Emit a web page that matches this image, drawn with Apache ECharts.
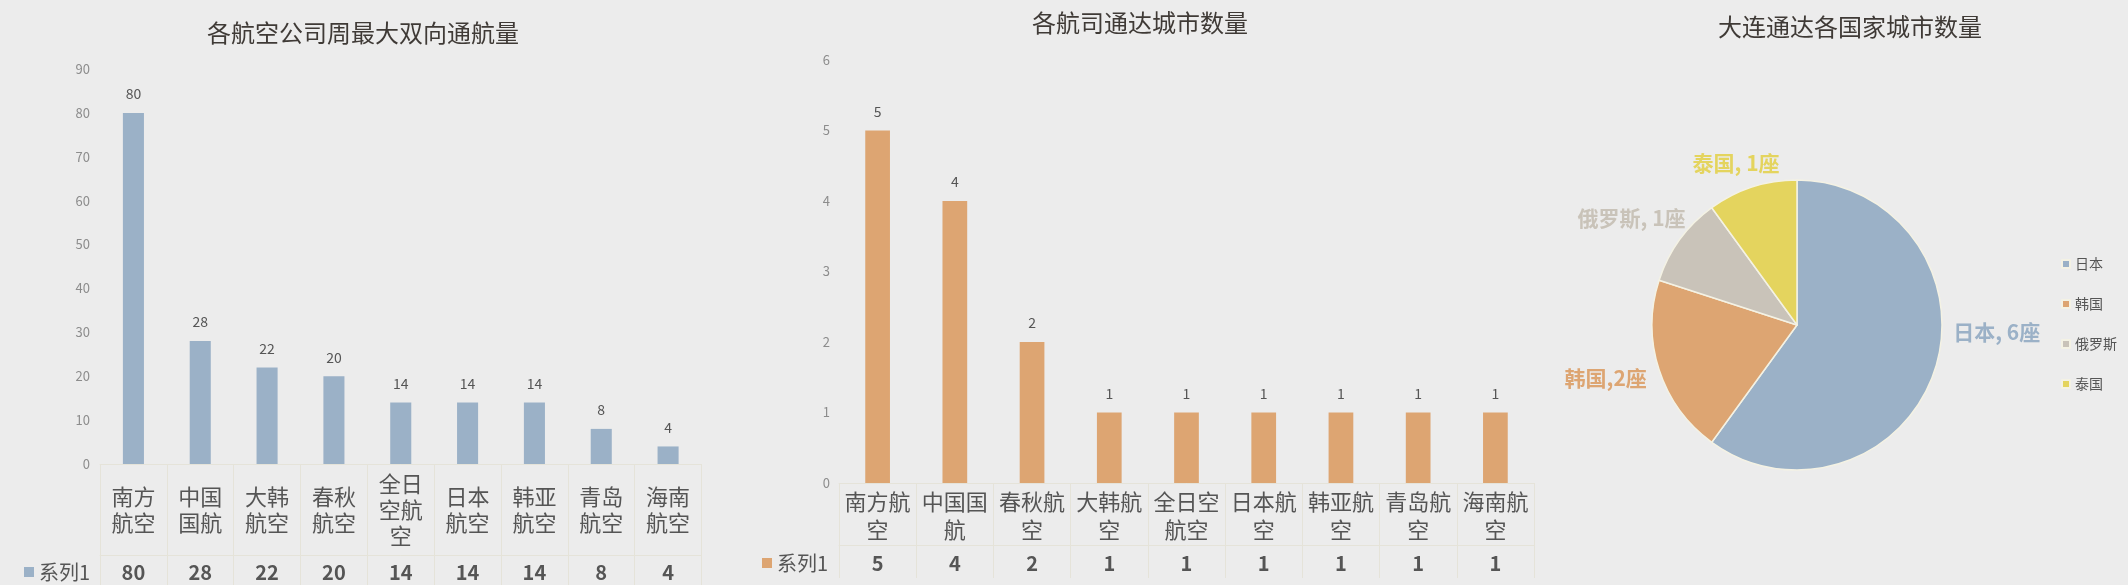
<!DOCTYPE html>
<html><head><meta charset="utf-8">
<script src="https://cdn.jsdelivr.net/npm/echarts@6/dist/echarts.min.js"></script>
<style>html,body{margin:0;padding:0;background:#ECECEC;overflow:hidden}#c{width:2128px;height:585px}</style>
</head><body><div id="c"></div>
<script>
// ---- data ----
const airlines1 = ['南方航空','中国国航','大韩航空','春秋航空','全日空航空','日本航空','韩亚航空','青岛航空','海南航空'];
const weeklyFlights = [80,28,22,20,14,14,14,8,4];
const airlines2 = ['南方航空','中国国航','春秋航空','大韩航空','全日空航空','日本航空','韩亚航空','青岛航空','海南航空'];
const cityCounts = [5,4,2,1,1,1,1,1,1];
const countries = ['日本','韩国','俄罗斯','泰国'];
const countryCities = [6,2,1,1];
const pieSep = [', ', ',', ', ', ', '];
const seriesName = '系列1';
const y1Max = 90, y1Step = 10;
const y2Max = 6, y2Step = 1;

// ---- styles ----
const font = "'Noto Sans CJK SC','Noto Sans',sans-serif";
const textColor = '#555555';
const titleColor = '#3F3A36';
const lineColor = '#E5E3D9';
const blue = '#9BB1C7', orange = '#DDA572';
const pieColors = ['#9BB1C7','#DDA572','#C9C3B9','#E4D45E'];
const pieLabelShift = [[-31,-42],[37,4],[53,-13],[67,-10]];

function wrap(n){ const re = new RegExp('.{1,' + n + '}', 'g'); return v => v.match(re).join('\n'); }

const chart = echarts.init(document.getElementById('c'), null, {renderer:'canvas'});
const titleStyle = {fontSize:24, fontWeight:'normal', color:titleColor, fontFamily:font};
const legendText = {fontSize:20, color:textColor, fontFamily:font};

chart.setOption({
  backgroundColor:'#ECECEC',
  animation:false,
  textStyle:{fontFamily:font},
  title:[
    {text:'各航空公司周最大双向通航量', left:363, top:21, textAlign:'center', padding:0, textStyle:titleStyle},
    {text:'各航司通达城市数量', left:1140, top:11, textAlign:'center', padding:0, textStyle:titleStyle},
    {text:'大连通达各国家城市数量', left:1850, top:15, textAlign:'center', padding:0, textStyle:titleStyle}
  ],
  legend:[
    {data:[{name:seriesName, itemStyle:{color:blue}}], left:24, top:562, padding:0, icon:'rect', itemWidth:10, itemHeight:10, selectedMode:false, textStyle:legendText},
    {data:[{name:seriesName, itemStyle:{color:orange}}], left:762, top:553, padding:0, icon:'rect', itemWidth:10, itemHeight:10, selectedMode:false, textStyle:legendText},
    {data:countries, orient:'vertical', left:2061, top:257, padding:0, icon:'rect', itemWidth:8, itemHeight:8, itemGap:26, selectedMode:false, textStyle:{fontSize:14, color:textColor, fontFamily:font}}
  ],
  grid:[
    {left:100, top:69, width:601.5, height:395, outerBoundsMode:'none', containLabel:false},
    {left:839, top:60, width:695, height:423, outerBoundsMode:'none', containLabel:false}
  ],
  xAxis:[
    {type:'category', gridIndex:0, data:airlines1,
     axisLine:{show:true, lineStyle:{color:lineColor}},
     axisTick:{show:true, interval:0, length:121, lineStyle:{color:lineColor}},
     axisLabel:{interval:0, formatter:wrap(2), fontSize:22, lineHeight:26, color:textColor, verticalAlign:'middle', margin:46}},
    {type:'category', gridIndex:0, data:airlines1, position:'bottom', offset:91,
     axisLine:{show:true, lineStyle:{color:lineColor}}, axisTick:{show:false},
     axisLabel:{interval:0, formatter:(v,i)=>String(weeklyFlights[i]), fontSize:20, fontWeight:'bold', color:textColor, verticalAlign:'middle', margin:17}},
    {type:'category', gridIndex:1, data:airlines2,
     axisLine:{show:true, lineStyle:{color:lineColor}},
     axisTick:{show:true, interval:0, length:95, lineStyle:{color:lineColor}},
     axisLabel:{interval:0, formatter:wrap(3), fontSize:22, lineHeight:28, color:textColor, verticalAlign:'middle', margin:33}},
    {type:'category', gridIndex:1, data:airlines2, position:'bottom', offset:62,
     axisLine:{show:true, lineStyle:{color:lineColor}}, axisTick:{show:false},
     axisLabel:{interval:0, formatter:(v,i)=>String(cityCounts[i]), fontSize:20, fontWeight:'bold', color:textColor, verticalAlign:'middle', margin:18}}
  ],
  yAxis:[
    {type:'value', gridIndex:0, min:0, max:y1Max, interval:y1Step,
     axisLine:{show:false}, axisTick:{show:false}, splitLine:{show:false},
     axisLabel:{fontSize:13, color:'#8C8C8C', margin:10}},
    {type:'value', gridIndex:1, min:0, max:y2Max, interval:y2Step,
     axisLine:{show:false}, axisTick:{show:false}, splitLine:{show:false},
     axisLabel:{fontSize:13, color:'#8C8C8C', margin:9}}
  ],
  series:[
    {type:'bar', name:seriesName, xAxisIndex:0, yAxisIndex:0, data:weeklyFlights, barWidth:'31.5%',
     itemStyle:{color:blue}, label:{show:true, position:'top', distance:12, fontSize:14, color:textColor}},
    {type:'bar', name:seriesName, xAxisIndex:2, yAxisIndex:1, data:cityCounts, barWidth:'32%',
     itemStyle:{color:orange}, label:{show:true, position:'top', distance:12, fontSize:14, color:textColor}},
    {type:'pie', center:[1797,325], radius:145, startAngle:90, clockwise:true, avoidLabelOverlap:false,
     data:countries.map((n,i)=>({name:n, value:countryCities[i]})),
     itemStyle:{color:p=>pieColors[p.dataIndex], borderColor:'#F4F2E4', borderWidth:1.5},
     label:{show:true, position:'outside', formatter:p=>p.name + pieSep[p.dataIndex] + p.value + '座', fontSize:21, fontWeight:'bold', color:'inherit'},
     labelLine:{show:false},
     labelLayout:p=>({dx:pieLabelShift[p.dataIndex][0], dy:pieLabelShift[p.dataIndex][1]}),
     emphasis:{disabled:true}}
  ]
});
</script></body></html>
